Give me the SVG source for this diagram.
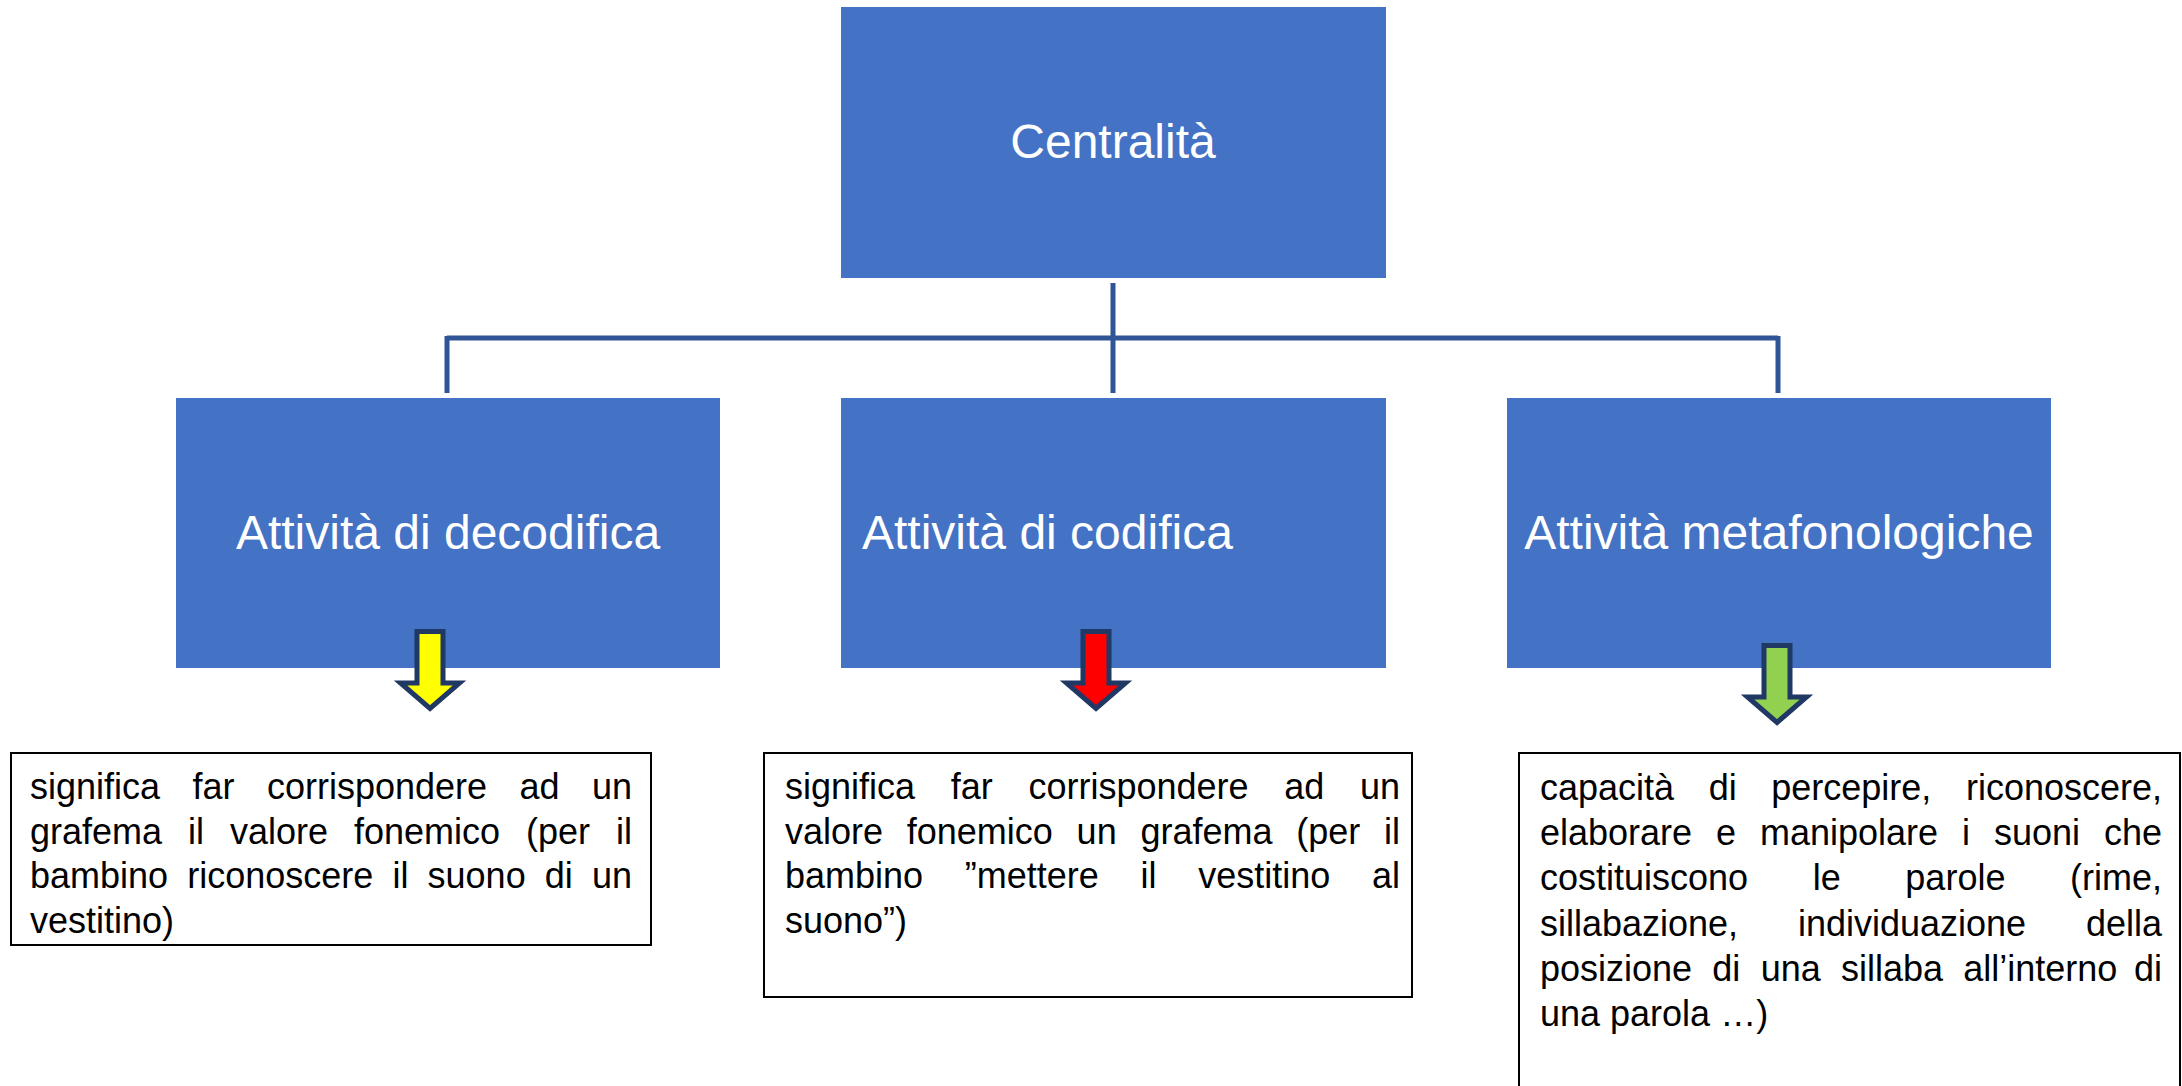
<svg xmlns="http://www.w3.org/2000/svg" xmlns:xlink="http://www.w3.org/1999/xlink" width="2182" height="1086" viewBox="0 0 2182 1086">
<style>
.blue{fill:#4472C4;}
.title{font-family:"Liberation Sans",Arial,sans-serif;font-size:48px;fill:#FFFFFF;}
.note{fill:#FFFFFF;stroke:#000000;stroke-width:2;}
.body{font-family:"Liberation Sans",Arial,sans-serif;font-size:36px;fill:#000000;}
.conn{fill:none;stroke:#2F5597;stroke-width:5;}
.arrow{stroke:#1F3864;stroke-width:5;stroke-linejoin:miter;stroke-miterlimit:10;}
</style>
<defs>
<path id="arrowShape" d="M417,631.5 H443 V683 H459.5 L430,708.5 L400.5,683 H417 Z"/>
</defs>
<rect width="2182" height="1086" fill="#FFFFFF"/>
<g id="connectors">
<line class="conn" x1="1113" y1="283" x2="1113" y2="393"/>
<line class="conn" x1="447" y1="338" x2="1778" y2="338"/>
<line class="conn" x1="447" y1="336" x2="447" y2="393"/>
<line class="conn" x1="1778" y1="336" x2="1778" y2="393"/>
</g>
<g id="node-centralita">
<rect class="blue" x="841" y="7" width="545" height="271"/>
<text class="title" x="1113" y="158" text-anchor="middle">Centralità</text>
</g>
<g id="node-decodifica">
<rect class="blue" x="176" y="398" width="544" height="270"/>
<text class="title" x="448" y="549" text-anchor="middle">Attività di decodifica</text>
</g>
<g id="node-codifica">
<rect class="blue" x="841" y="398" width="545" height="270"/>
<text class="title" x="862" y="549">Attività di codifica</text>
</g>
<g id="node-metafonologiche">
<rect class="blue" x="1507" y="398" width="544" height="270"/>
<text class="title" x="1779" y="549" text-anchor="middle">Attività metafonologiche</text>
</g>
<g id="arrow-yellow">
<use xlink:href="#arrowShape" class="arrow" fill="#FFFF00"/>
</g>
<g id="arrow-red">
<use xlink:href="#arrowShape" class="arrow" fill="#FF0000" transform="translate(666,0)"/>
</g>
<g id="arrow-green">
<use xlink:href="#arrowShape" class="arrow" fill="#92D050" transform="translate(1347,14)"/>
</g>
<g id="note-decodifica">
<rect class="note" x="11" y="753" width="640" height="192"/>
<text class="body" y="799"><tspan x="30">significa</tspan><tspan x="192.49">far</tspan><tspan x="266.96">corrispondere</tspan><tspan x="519.49">ad</tspan><tspan x="591.98">un</tspan></text>
<text class="body" y="843.5"><tspan x="30">grafema</tspan><tspan x="188.03">il</tspan><tspan x="229.99">valore</tspan><tspan x="354">fonemico</tspan><tspan x="526.03">(per</tspan><tspan x="616.02">il</tspan></text>
<text class="body" y="888"><tspan x="30">bambino</tspan><tspan x="187.22">riconoscere</tspan><tspan x="392.43">il</tspan><tspan x="427.57">suono</tspan><tspan x="544.79">di</tspan><tspan x="591.96">un</tspan></text>
<text class="body" x="30" y="932.5">vestitino)</text>
</g>
<g id="note-codifica">
<rect class="note" x="764" y="753" width="648" height="244"/>
<text class="body" y="799"><tspan x="785">significa</tspan><tspan x="950.74">far</tspan><tspan x="1028.45">corrispondere</tspan><tspan x="1284.23">ad</tspan><tspan x="1359.96">un</tspan></text>
<text class="body" y="843.5"><tspan x="785">valore</tspan><tspan x="906.8">fonemico</tspan><tspan x="1076.62">un</tspan><tspan x="1140.42">grafema</tspan><tspan x="1296.24">(per</tspan><tspan x="1384.02">il</tspan></text>
<text class="body" y="888"><tspan x="785">bambino</tspan><tspan x="964.78">”mettere</tspan><tspan x="1140.53">il</tspan><tspan x="1198.23">vestitino</tspan><tspan x="1372">al</tspan></text>
<text class="body" x="785" y="932.5">suono”)</text>
</g>
<g id="note-metafonologiche">
<rect class="note" x="1519" y="753" width="661" height="345"/>
<text class="body" y="800"><tspan x="1540">capacità</tspan><tspan x="1708.67">di</tspan><tspan x="1771.29">percepire,</tspan><tspan x="1965.96">riconoscere,</tspan></text>
<text class="body" y="845.2"><tspan x="1540">elaborare</tspan><tspan x="1716.02">e</tspan><tspan x="1760">manipolare</tspan><tspan x="1962.02">i</tspan><tspan x="1993.97">suoni</tspan><tspan x="2103.97">che</tspan></text>
<text class="body" y="890.4"><tspan x="1540">costituiscono</tspan><tspan x="1812.71">le</tspan><tspan x="1905.35">parole</tspan><tspan x="2070.02">(rime,</tspan></text>
<text class="body" y="935.6"><tspan x="1540">sillabazione,</tspan><tspan x="1797.97">individuazione</tspan><tspan x="2085.97">della</tspan></text>
<text class="body" y="980.8"><tspan x="1540">posizione</tspan><tspan x="1712.34">di</tspan><tspan x="1760.63">una</tspan><tspan x="1840.96">sillaba</tspan><tspan x="1963.26">all’interno</tspan><tspan x="2133.98">di</tspan></text>
<text class="body" x="1540" y="1026">una parola …)</text>
</g>
</svg>
